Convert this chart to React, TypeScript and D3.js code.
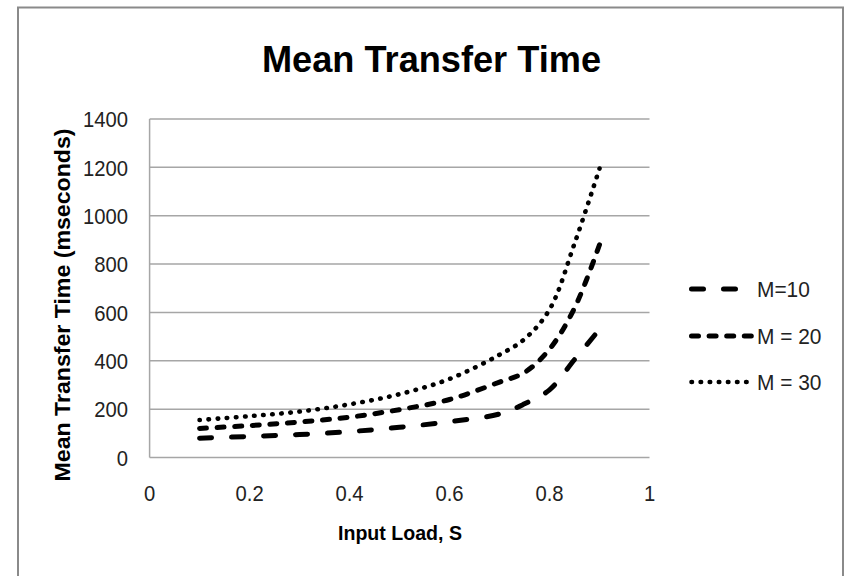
import React from "react";
import * as d3 from "d3";

const loads = [0.1, 0.2, 0.3, 0.4, 0.5, 0.6, 0.7, 0.75, 0.8, 0.85, 0.9];
const m10 = [80, 87, 95, 107, 125, 148, 180, 222, 280, 405, 530];
const m20 = [120, 132, 147, 167, 198, 240, 312, 352, 448, 618, 880];
const m30 = [155, 171, 190, 220, 262, 325, 425, 490, 612, 885, 1195];
const seriesNames = ["M=10", "M = 20", "M = 30"];
const xTicks = [0, 0.2, 0.4, 0.6, 0.8, 1];
const yTicks = [0, 200, 400, 600, 800, 1000, 1200, 1400];

const W = 846;
const H = 576;
const FONT = "'Liberation Sans', Arial, sans-serif";

const styles = [
  { dash: "12,20", width: 5 },
  { dash: "7,10.6", width: 5 },
  { dash: "0.5,8.6", width: 4.6 },
];

export default function App() {
  const x = d3.scaleLinear().domain([0, 1]).range([149.6, 649.5]);
  const y = d3.scaleLinear().domain([0, 1400]).range([457.5, 119]);
  const series = [m10, m20, m30];
  const line = d3
    .line<[number, number]>()
    .x((d) => x(d[0]))
    .y((d) => y(d[1]))
    .curve(d3.curveCatmullRom.alpha(0.5));

  const legendY = [289, 336, 382];

  return (
    <svg
      width={W}
      height={H}
      style={{ position: "absolute", left: 0, top: 0, display: "block", background: "#fff" }}
    >
      <rect x={0} y={0} width={W} height={H} fill="#fff" />
      <rect x={18} y={7.5} width={825} height={600} fill="#fff" stroke="#8a8a8a" strokeWidth={2} />

      <text
        x={431.5}
        y={71.5}
        textAnchor="middle"
        fontFamily={FONT}
        fontWeight="bold"
        fontSize={36}
        textLength={339}
        lengthAdjust="spacingAndGlyphs"
        fill="#000"
      >
        Mean Transfer Time
      </text>

      {yTicks.map((t) => (
        <line
          key={"g" + t}
          x1={x(0)}
          x2={x(1)}
          y1={y(t)}
          y2={y(t)}
          stroke="#a6a6a6"
          strokeWidth={1.5}
        />
      ))}
      <line x1={x(0)} x2={x(0)} y1={y(1400)} y2={y(0)} stroke="#a6a6a6" strokeWidth={1.5} />

      {yTicks.map((t) => (
        <text
          key={"yt" + t}
          transform={`translate(128,${y(t)}) scale(0.92,1.04)`}
          dy="0.36em"
          textAnchor="end"
          fontFamily={FONT}
          fontSize={22}
          fill="#222"
        >
          {t}
        </text>
      ))}
      {xTicks.map((t) => (
        <text
          key={"xt" + t}
          transform={`translate(${x(t)},500.5) scale(0.92,1.04)`}
          textAnchor="middle"
          fontFamily={FONT}
          fontSize={22}
          fill="#222"
        >
          {String(t)}
        </text>
      ))}

      <text
        x={400}
        y={540}
        textAnchor="middle"
        fontFamily={FONT}
        fontWeight="bold"
        fontSize={21}
        textLength={124}
        lengthAdjust="spacingAndGlyphs"
        fill="#000"
      >
        Input Load, S
      </text>

      <text
        transform="translate(70,305) rotate(-90)"
        textAnchor="middle"
        fontFamily={FONT}
        fontWeight="bold"
        fontSize={22}
        textLength={353}
        lengthAdjust="spacingAndGlyphs"
        fill="#000"
      >
        Mean Transfer Time (mseconds)
      </text>

      {series.map((vals, i) => (
        <path
          key={"s" + i}
          d={line(loads.map((l, j) => [l, vals[j]] as [number, number])) || ""}
          fill="none"
          stroke="#000"
          strokeWidth={styles[i].width}
          strokeDasharray={styles[i].dash}
          strokeLinecap="round"
        />
      ))}

      {seriesNames.map((n, i) => (
        <g key={"lg" + i}>
          <line
            x1={691.5}
            x2={752}
            y1={legendY[i]}
            y2={legendY[i]}
            stroke="#000"
            strokeWidth={styles[i].width}
            strokeDasharray={styles[i].dash}
            strokeLinecap="round"
          />
          <text
            transform={`translate(757,${legendY[i]}) scale(0.95,1.04)`}
            dy="0.36em"
            fontFamily={FONT}
            fontSize={22}
            fill="#222"
          >
            {n}
          </text>
        </g>
      ))}
    </svg>
  );
}
